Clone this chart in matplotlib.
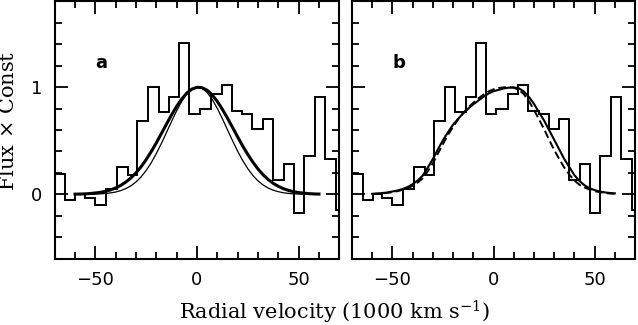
#line profile fits: panel a gaussians, panel b model profiles
import numpy as np
import matplotlib
matplotlib.use('Agg')
import matplotlib.pyplot as plt
from matplotlib.ticker import MultipleLocator

# binned flux (same spectrum in both panels)
bin_edges = [-70, -64.7, -59.8, -55.0, -50.1, -44.8, -39.5, -34.1, -29.3, -24.1, -18.9,
             -13.8, -8.7, -3.7, 1.3, 7.0, 12.2, 17.2, 22.3, 27.3, 32.4, 37.3, 42.7,
             47.8, 52.8, 58.0, 63.2, 68.3, 70]
flux = [0.19, -0.05, 0.0, -0.03, -0.10, 0.05, 0.26, 0.18, 0.68, 1.00, 0.77, 0.91,
        1.41, 0.75, 0.80, 0.94, 1.02, 0.78, 0.75, 0.61, 0.70, 0.13, 0.28, -0.17,
        0.36, 0.91, 0.33, -0.15]

# velocity grid of the model curves (1000 km/s)
curve_v = np.arange(-60, 62.5, 2.5)

# panel a: broad fit (thick) and narrow fit (thin)
fit_a_thick = [0.002, 0.003, 0.005, 0.008, 0.013, 0.019, 0.029, 0.042, 0.060, 0.084,
               0.115, 0.154, 0.201, 0.258, 0.325, 0.399, 0.481, 0.568, 0.656, 0.742,
               0.821, 0.890, 0.945, 0.982, 0.999, 0.995, 0.971, 0.927, 0.867, 0.793,
               0.711, 0.624, 0.536, 0.451, 0.372, 0.300, 0.237, 0.183, 0.139, 0.103,
               0.075, 0.053, 0.037, 0.025, 0.017, 0.011, 0.007, 0.004, 0.003]
fit_a_thin = [0.000, 0.000, 0.001, 0.001, 0.003, 0.005, 0.008, 0.014, 0.022, 0.035,
              0.054, 0.080, 0.116, 0.163, 0.223, 0.295, 0.381, 0.476, 0.578, 0.681,
              0.780, 0.867, 0.936, 0.982, 1.000, 0.989, 0.950, 0.885, 0.802, 0.705,
              0.602, 0.500, 0.402, 0.315, 0.239, 0.176, 0.126, 0.088, 0.059, 0.039,
              0.025, 0.015, 0.009, 0.005, 0.003, 0.002, 0.001, 0.000, 0.000]

# panel b: model profile (solid) and alternative (dashed)
model_b_solid = [0.005, 0.008, 0.012, 0.018, 0.027, 0.036, 0.050, 0.068, 0.095, 0.130,
                 0.175, 0.250, 0.330, 0.420, 0.505, 0.580, 0.650, 0.705, 0.755, 0.800,
                 0.840, 0.875, 0.910, 0.940, 0.962, 0.975, 0.988, 0.995, 0.998, 0.990,
                 0.960, 0.910, 0.845, 0.765, 0.690, 0.600, 0.510, 0.420, 0.330, 0.255,
                 0.180, 0.125, 0.085, 0.058, 0.040, 0.027, 0.019, 0.013, 0.010]
model_b_dash = [0.004, 0.006, 0.009, 0.014, 0.020, 0.030, 0.042, 0.058, 0.080, 0.110,
                0.150, 0.215, 0.290, 0.380, 0.470, 0.555, 0.630, 0.700, 0.760, 0.810,
                0.855, 0.895, 0.930, 0.960, 0.980, 0.992, 0.998, 1.000, 0.995, 0.975,
                0.935, 0.870, 0.790, 0.700, 0.610, 0.510, 0.415, 0.330, 0.250, 0.185,
                0.130, 0.090, 0.065, 0.045, 0.030, 0.020, 0.013, 0.008, 0.005]

plt.rcParams['mathtext.fontset'] = 'dejavuserif'

fig = plt.figure(figsize=(6.38, 3.25), dpi=100)
W, H = 638.0, 325.0
ax_a = fig.add_axes([54.7 / W, 1 - 258.7 / H, 284.6 / W, 257.3 / H])
ax_b = fig.add_axes([352.0 / W, 1 - 258.7 / H, 283.0 / W, 257.3 / H])

for ax in (ax_a, ax_b):
    ax.stairs(flux, bin_edges, baseline=None, color='black', lw=1.4)
    ax.set_xlim(-70, 70)
    ax.set_ylim(-0.6, 1.8)
    ax.xaxis.set_major_locator(MultipleLocator(50))
    ax.xaxis.set_minor_locator(MultipleLocator(10))
    ax.yaxis.set_major_locator(MultipleLocator(1))
    ax.yaxis.set_minor_locator(MultipleLocator(0.2))
    ax.tick_params(which='both', direction='in', top=True, right=True, width=1.3,
                   labelsize=13, pad=9)
    ax.tick_params(which='major', length=9.5)
    ax.tick_params(which='minor', length=5)
    for sp in ax.spines.values():
        sp.set_linewidth(1.5)

ax_a.plot(curve_v, fit_a_thick, color='black', lw=2.2)
ax_a.plot(curve_v, fit_a_thin, color='black', lw=0.9)
ax_a.text(-47, 1.23, 'a', fontsize=13, fontweight='bold', ha='center', va='center')

ax_b.plot(curve_v, model_b_solid, color='black', lw=1.5)
ax_b.plot(curve_v, model_b_dash, color='black', lw=1.4, dashes=(4, 2))
ax_b.text(-47, 1.23, 'b', fontsize=13, fontweight='bold', ha='center', va='center')
ax_b.set_yticklabels([])

fig.text(0.525, 0.04, r'Radial velocity (1000 km s$^{-1}$)', family='DejaVu Serif',
         fontsize=15, ha='center', va='center')
fig.text(0.014, 0.628, r'Flux $\times$ Const', family='DejaVu Serif', fontsize=15,
         rotation=90, ha='center', va='center')

fig.savefig('out.png', dpi=100)
